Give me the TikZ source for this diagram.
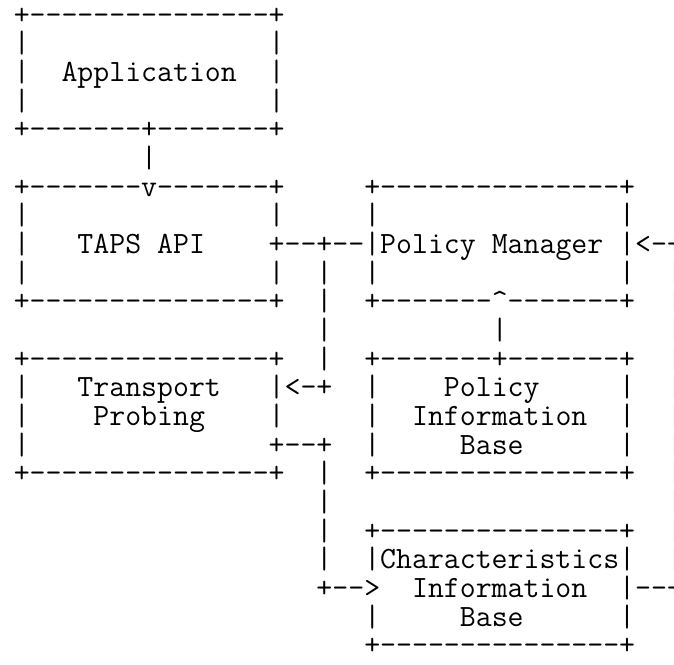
\documentclass[tikz,border=0pt]{standalone}
\usepackage{fontspec}
\newfontfamily\asciifont{Latin Modern Mono}[Ligatures=TeXOff]
\begin{document}
\begin{tikzpicture}[node distance={28.68pt}, row/.style = {inner sep=0pt, text width=700pt, align=left, text height=20pt, text depth=6pt, font=\asciifont\fontsize{30.94}{28.68}\selectfont\def~{\hphantom{-}}}]
	\useasboundingbox (0,0) rectangle (674pt,-664pt);
	\clip (0,0) rectangle (674pt,-664pt);
	% application box
	\node[row] (row0) at (363.75pt,-17pt) {+---------------+};
	\node[row, below of = row0] (row1) {|~~~~~~~~~~~~~~~|};
	\node[row, below of = row1] (row2) {|~~Application~~|};
	\node[row, below of = row2] (row3) {|~~~~~~~~~~~~~~~|};
	\node[row, below of = row3] (row4) {+-------+-------+};
	\node[row, below of = row4] (row5) {~~~~~~~~|};
	% taps api and policy manager
	\node[row, below of = row5] (row6) {+-------v-------+~~~~~+---------------+};
	\node[row, below of = row6] (row7) {|~~~~~~~~~~~~~~~|~~~~~|~~~~~~~~~~~~~~~|};
	\node[row, below of = row7] (row8) {|~~~TAPS~API~~~~+--+--|Policy~Manager~|<-+};
	\node[row, below of = row8] (row9) {|~~~~~~~~~~~~~~~|~~|~~|~~~~~~~~~~~~~~~|~~|};
	\node[row, below of = row9] (row10) {+---------------+~~|~~+-------\textasciicircum-------+~~|};
	\node[row, below of = row10] (row11) {~~~~~~~~~~~~~~~~~~~|~~~~~~~~~~|~~~~~~~~~~|};
	% transport probing and policy information base
	\node[row, below of = row11] (row12) {+---------------+~~|~~+-------+-------+~~|};
	\node[row, below of = row12] (row13) {|~~~Transport~~~|<-+~~|~~~~Policy~~~~~|~~|};
	\node[row, below of = row13] (row14) {|~~~~Probing~~~~|~~~~~|~~Information~~|~~|};
	\node[row, below of = row14] (row15) {|~~~~~~~~~~~~~~~+--+~~|~~~~~Base~~~~~~|~~|};
	\node[row, below of = row15] (row16) {+---------------+~~|~~+---------------+~~|};
	\node[row, below of = row16] (row17) {~~~~~~~~~~~~~~~~~~~|~~~~~~~~~~~~~~~~~~~~~|};
	% characteristics information base
	\node[row, below of = row17] (row18) {~~~~~~~~~~~~~~~~~~~|~~+---------------+~~|};
	\node[row, below of = row18] (row19) {~~~~~~~~~~~~~~~~~~~|~~|Characteristics|~~|};
	\node[row, below of = row19] (row20) {~~~~~~~~~~~~~~~~~~~+-->~~Information~~|--+};
	\node[row, below of = row20] (row21) {~~~~~~~~~~~~~~~~~~~~~~|~~~~~Base~~~~~~|};
	\node[row, below of = row21] (row22) {~~~~~~~~~~~~~~~~~~~~~~+---------------+};
\end{tikzpicture}
\end{document}
